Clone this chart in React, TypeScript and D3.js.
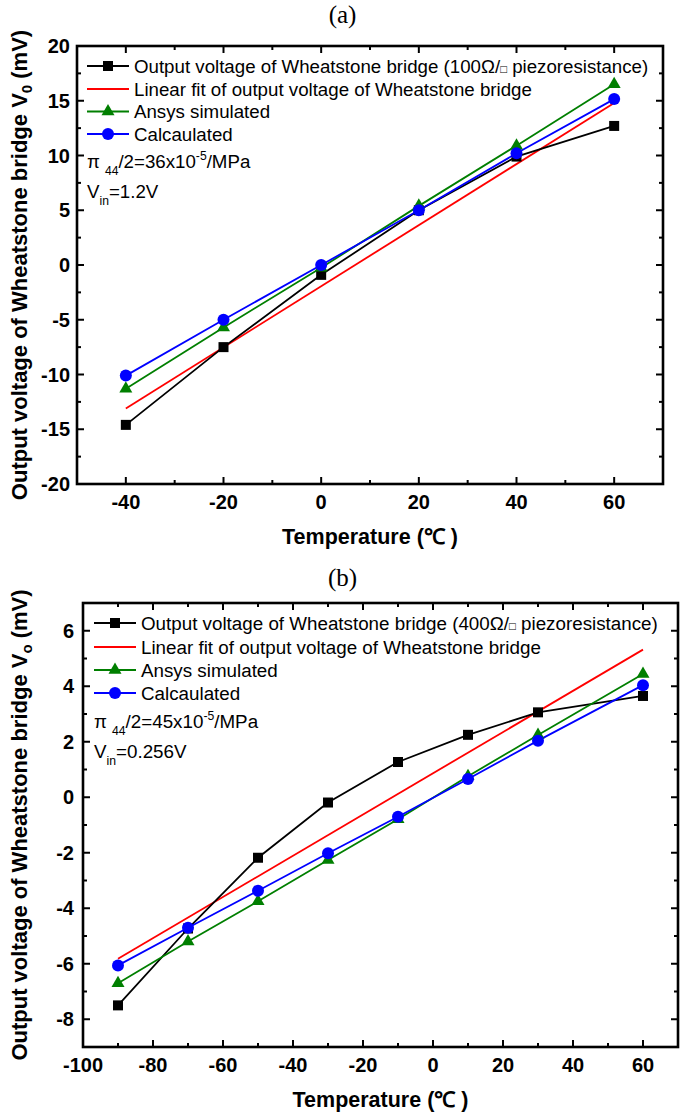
import React from "react";
import * as d3 from "d3";

// ---------- Data (panel a) ----------
const tempA = [-40, -20, 0, 20, 40, 60];
const measuredA = [-14.6, -7.5, -0.9, 5.0, 9.9, 12.7];
const ansysA = [-11.3, -5.7, -0.25, 5.4, 10.9, 16.5];
const calcA = [-10.1, -5.0, 0.0, 5.0, 10.2, 15.15];
const fitXA = [-40, 60];
const fitYA = [-13.1, 14.8];
const xTicksA = [-40, -20, 0, 20, 40, 60];
const yTicksA = [-20, -15, -10, -5, 0, 5, 10, 15, 20];

// ---------- Data (panel b) ----------
const tempB = [-90, -70, -50, -30, -10, 10, 30, 60];
const measuredB = [-7.5, -4.73, -2.18, -0.19, 1.27, 2.25, 3.06, 3.65];
const ansysB = [-6.7, -5.2, -3.75, -2.26, -0.79, 0.76, 2.24, 4.44];
const calcB = [-6.06, -4.7, -3.37, -2.02, -0.7, 0.66, 2.04, 4.04];
const fitXB = [-90, 60];
const fitYB = [-5.82, 5.32];
const xTicksB = [-100, -80, -60, -40, -20, 0, 20, 40, 60];
const yTicksB = [-8, -6, -4, -2, 0, 2, 4, 6];

const legendLabels = [
  "Output voltage of Wheatstone bridge",
  "Linear fit of output voltage of Wheatstone bridge",
  "Ansys simulated",
  "Calcaulated",
];

const SANS = "'Liberation Sans', Arial, Helvetica, sans-serif";
const BLACK = "#000000";
const RED = "#ff0000";
const GREEN = "#007f00";
const BLUE = "#0000ff";

type PanelProps = {
  title: string;
  titleY: number;
  xDomain: [number, number];
  xRange: [number, number];
  yDomain: [number, number];
  yRange: [number, number];
  xTicks: number[];
  xMinor: number[];
  yTicks: number[];
  yMinor: number[];
  temps: number[];
  measured: number[];
  ansys: number[];
  calc: number[];
  fitX: number[];
  fitY: number[];
  resist: string;
  pi: string;
  vin: string;
  vSub: string;
  legendX: number;
  legendRows: number[];
  annotRows: number[];
  legendFont: number;
  yLabelGap: number;
};

function Marker({ kind, x, y, color }: { kind: string; x: number; y: number; color: string }) {
  if (kind === "square") {
    return <rect x={x - 5} y={y - 5} width={10} height={10} fill={color} />;
  }
  if (kind === "circle") {
    return <circle cx={x} cy={y} r={6} fill={color} />;
  }
  if (kind === "triangle") {
    const s = 13;
    const h = s * 0.866;
    const pts = [
      [x, y - (2 * h) / 3],
      [x - s / 2, y + h / 3],
      [x + s / 2, y + h / 3],
    ];
    return <polygon points={pts.map((p) => p.join(",")).join(" ")} fill={color} />;
  }
  return null;
}

function Panel(p: PanelProps) {
  const x = d3.scaleLinear().domain(p.xDomain).range(p.xRange);
  const y = d3.scaleLinear().domain(p.yDomain).range(p.yRange);
  const [x0, x1] = p.xRange;
  const [yb, yt] = p.yRange;
  const line = d3
    .line<[number, number]>()
    .x((d) => x(d[0]))
    .y((d) => y(d[1]));
  const series = [
    { vals: p.measured, color: BLACK, kind: "square" },
    { vals: p.ansys, color: GREEN, kind: "triangle" },
    { vals: p.calc, color: BLUE, kind: "circle" },
  ];
  const fitPts = p.fitX.map((v, i) => [v, p.fitY[i]] as [number, number]);
  const maj = 7;
  const min = 4;
  const lx = p.legendX;
  const legendItems = [
    { color: BLACK, kind: "square" },
    { color: RED, kind: "none" },
    { color: GREEN, kind: "triangle" },
    { color: BLUE, kind: "circle" },
  ];
  const fs = p.legendFont;
  return (
    <g>
      <text
        x={342.5}
        y={p.titleY}
        textAnchor="middle"
        fontFamily="'Liberation Serif', 'Times New Roman', serif"
        fontSize={25}
      >
        {p.title}
      </text>
      {/* fit line */}
      <path d={line(fitPts) || ""} fill="none" stroke={RED} strokeWidth={1.8} />
      {/* data lines */}
      {series.map((s, i) => (
        <path
          key={"l" + i}
          d={line(p.temps.map((t, j) => [t, s.vals[j]] as [number, number])) || ""}
          fill="none"
          stroke={s.color}
          strokeWidth={1.8}
        />
      ))}
      {series.map((s, i) => (
        <g key={"m" + i}>
          {p.temps.map((t, j) => (
            <Marker key={j} kind={s.kind} x={x(t)} y={y(s.vals[j])} color={s.color} />
          ))}
        </g>
      ))}
      {/* frame */}
      <rect
        x={x0}
        y={yt}
        width={x1 - x0}
        height={yb - yt}
        fill="none"
        stroke="#000"
        strokeWidth={2.6}
      />
      {/* ticks */}
      {p.xTicks.map((t) => (
        <g key={"xt" + t}>
          <line x1={x(t)} x2={x(t)} y1={yb} y2={yb - maj} stroke="#000" strokeWidth={2} />
          <line x1={x(t)} x2={x(t)} y1={yt} y2={yt + maj} stroke="#000" strokeWidth={2} />
          <text
            x={x(t)}
            y={yb + 25}
            textAnchor="middle"
            fontFamily={SANS}
            fontWeight="bold"
            fontSize={20}
          >
            {t}
          </text>
        </g>
      ))}
      {p.xMinor.map((t) => (
        <g key={"xm" + t}>
          <line x1={x(t)} x2={x(t)} y1={yb} y2={yb - min} stroke="#000" strokeWidth={2} />
          <line x1={x(t)} x2={x(t)} y1={yt} y2={yt + min} stroke="#000" strokeWidth={2} />
        </g>
      ))}
      {p.yTicks.map((t) => (
        <g key={"yt" + t}>
          <line x1={x0} x2={x0 + maj} y1={y(t)} y2={y(t)} stroke="#000" strokeWidth={2} />
          <line x1={x1} x2={x1 - maj} y1={y(t)} y2={y(t)} stroke="#000" strokeWidth={2} />
          <text
            x={x0 - p.yLabelGap}
            y={y(t) + 7}
            textAnchor="end"
            fontFamily={SANS}
            fontWeight="bold"
            fontSize={20}
          >
            {t}
          </text>
        </g>
      ))}
      {p.yMinor.map((t) => (
        <g key={"ym" + t}>
          <line x1={x0} x2={x0 + min} y1={y(t)} y2={y(t)} stroke="#000" strokeWidth={2} />
          <line x1={x1} x2={x1 - min} y1={y(t)} y2={y(t)} stroke="#000" strokeWidth={2} />
        </g>
      ))}
      {/* axis titles */}
      <text
        x={(x0 + x1) / 2}
        y={yb + 60}
        textAnchor="middle"
        fontFamily={SANS}
        fontWeight="bold"
        fontSize={21.5}
      >
        Temperature (℃ )
      </text>
      <text
        transform={`translate(27,${(yb + yt) / 2}) rotate(-90)`}
        textAnchor="middle"
        fontFamily={SANS}
        fontWeight="bold"
        fontSize={22}
      >
        Output voltage of Wheatstone bridge V
        <tspan fontSize={15} dy={5}>
          {p.vSub}
        </tspan>
        <tspan dy={-5}> (mV)</tspan>
      </text>
      {/* legend */}
      {legendItems.map((it, i) => (
        <g key={"lg" + i}>
          <line
            x1={lx}
            x2={lx + 42}
            y1={p.legendRows[i]}
            y2={p.legendRows[i]}
            stroke={it.color}
            strokeWidth={1.8}
          />
          <Marker kind={it.kind} x={lx + 21} y={p.legendRows[i]} color={it.color} />
          <text x={lx + 47} y={p.legendRows[i] + 6.5} fontFamily={SANS} fontSize={fs}>
            {i === 0 ? (
              <>
                {legendLabels[0]} ({p.resist}Ω/
                <tspan fontSize={fs * 0.6}>□</tspan> piezoresistance)
              </>
            ) : (
              legendLabels[i]
            )}
          </text>
        </g>
      ))}
      <text x={lx} y={p.annotRows[0] + 6.5} fontFamily={SANS} fontSize={fs}>
        π
        <tspan fontSize={fs * 0.65} dx={5} dy={7}>
          44
        </tspan>
        <tspan dy={-7}>/2={p.pi}x10</tspan>
        <tspan fontSize={fs * 0.65} dy={-8}>
          -5
        </tspan>
        <tspan dy={8}>/MPa</tspan>
      </text>
      <text x={lx} y={p.annotRows[1] + 6.5} fontFamily={SANS} fontSize={fs}>
        V
        <tspan fontSize={fs * 0.65} dy={7}>
          in
        </tspan>
        <tspan dy={-7}>={p.vin}</tspan>
      </text>
    </g>
  );
}

export default function App() {
  return (
    <svg width={685} height={1119} style={{ display: "block", position: "absolute", left: 0, top: 0 }}>
      <rect width={685} height={1119} fill="#fff" />
      <Panel
        title="(a)"
        titleY={23}
        xDomain={[-50, 70]}
        xRange={[77, 663]}
        yDomain={[-20, 20]}
        yRange={[484, 46]}
        xTicks={xTicksA}
        xMinor={[-30, -10, 10, 30, 50]}
        yTicks={yTicksA}
        yMinor={[-17.5, -12.5, -7.5, -2.5, 2.5, 7.5, 12.5, 17.5]}
        temps={tempA}
        measured={measuredA}
        ansys={ansysA}
        calc={calcA}
        fitX={fitXA}
        fitY={fitYA}
        resist="100"
        pi="36"
        vin="1.2V"
        vSub="0"
        legendX={87}
        legendRows={[66, 89, 111.5, 134]}
        annotRows={[161.5, 191]}
        legendFont={18.7}
        yLabelGap={7}
      />
      <Panel
        title="(b)"
        titleY={586}
        xDomain={[-100, 70]}
        xRange={[83, 678]}
        yDomain={[-9, 7]}
        yRange={[1047, 603]}
        xTicks={xTicksB}
        xMinor={[-90, -70, -50, -30, -10, 10, 30, 50]}
        yTicks={yTicksB}
        yMinor={[-7, -5, -3, -1, 1, 3, 5]}
        temps={tempB}
        measured={measuredB}
        ansys={ansysB}
        calc={calcB}
        fitX={fitXB}
        fitY={fitYB}
        resist="400"
        pi="45"
        vin="0.256V"
        vSub="o"
        legendX={94}
        legendRows={[623, 647, 670, 693]}
        annotRows={[721.5, 751]}
        legendFont={18.8}
        yLabelGap={9}
      />
    </svg>
  );
}
